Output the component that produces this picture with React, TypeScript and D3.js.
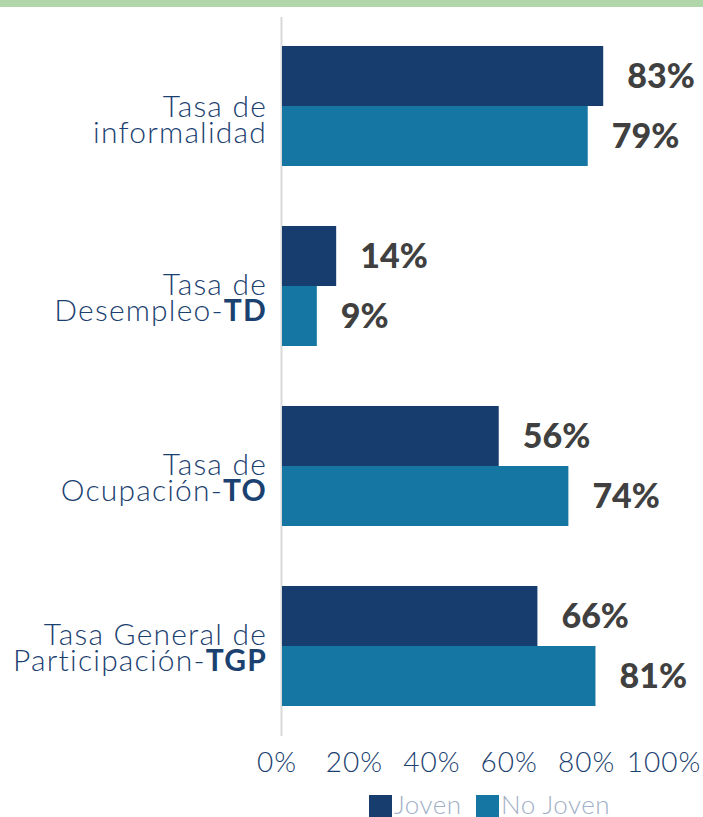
import React from "react";
import * as d3 from "d3";

// categories: plain part + bold acronym on second line
const catLine1 = ["Tasa de", "Tasa de", "Tasa de", "Tasa General de"];
const catLine2 = ["informalidad", "Desempleo-", "Ocupación-", "Participación-"];
const catBold = ["", "TD", "TO", "TGP"];
const joven = [83, 14, 56, 66];
const noJoven = [79, 9, 74, 81];
const ticks = [0, 20, 40, 60, 80, 100];
const seriesNames = ["Joven", "No Joven"];

const W = 703;
const H = 817;
const colors = ["#173c6e", "#1576a3"];
const labelBlue = "#1b4170";

export default function App() {
  const x = d3.scaleLinear().domain([0, 100]).range([282, 669]);
  const y = d3
    .scaleBand<number>()
    .domain(d3.range(catLine1.length))
    .range([16, 736])
    .paddingInner(1 / 3)
    .paddingOuter(1 / 6);
  const bh = y.bandwidth() / 2;
  // label block offset per category (the last one sits a little higher)
  const lineShift = [11, 9, 9, -1];

  const valueText = (v: number, yy: number) => (
    <text
      x={x(v) + 24}
      y={yy}
      dy="0.36em"
      fontFamily="Lato"
      fontWeight={900}
      fontSize={34}
      fill="#404040"
    >
      {v}%
    </text>
  );

  return (
    <svg
      width={W}
      height={H}
      style={{ position: "absolute", left: 0, top: 0, background: "#fff" }}
    >
      <rect x={0} y={0} width={W} height={7} fill="#b0d6a9" />
      <line x1={281.5} x2={281.5} y1={17} y2={736} stroke="#d9d9d9" strokeWidth={2} />

      {catLine1.map((c, i) => {
        const y0 = y(i)!;
        const mid = y0 + bh;
        return (
          <g key={i}>
            <rect x={x(0)} y={y0} width={x(joven[i]) - x(0)} height={bh} fill={colors[0]} />
            <rect x={x(0)} y={mid} width={x(noJoven[i]) - x(0)} height={bh} fill={colors[1]} />
            {valueText(joven[i], y0 + bh / 2)}
            {valueText(noJoven[i], mid + bh / 2)}
            <text
              textAnchor="end"
              fontFamily="Lato"
              fontWeight={300}
              fontSize={30}
              letterSpacing={1.2}
              fill={labelBlue}
            >
              <tspan x={267} y={mid + lineShift[i]}>{c}</tspan>
              <tspan x={267} y={mid + lineShift[i] + 26}>
                {catLine2[i]}
                <tspan fontWeight={700}>{catBold[i]}</tspan>
              </tspan>
            </text>
          </g>
        );
      })}

      {ticks.map((t) => (
        <text
          key={t}
          x={x(t) - 5}
          y={772}
          textAnchor="middle"
          fontFamily="Lato"
          fontWeight={300}
          fontSize={28}
          letterSpacing={1}
          fill={labelBlue}
        >
          {t}%
        </text>
      ))}

      {seriesNames.map((s, i) => {
        const lx = [369, 476][i];
        return (
          <g key={s}>
            <rect x={lx} y={795} width={23} height={23} fill={colors[i]} />
            <text
              x={lx + 25}
              y={814}
              fontFamily="Lato"
              fontWeight={300}
              fontSize={26}
              letterSpacing={0.5}
              fill="#9fb0c7"
            >
              {s}
            </text>
          </g>
        );
      })}
    </svg>
  );
}
